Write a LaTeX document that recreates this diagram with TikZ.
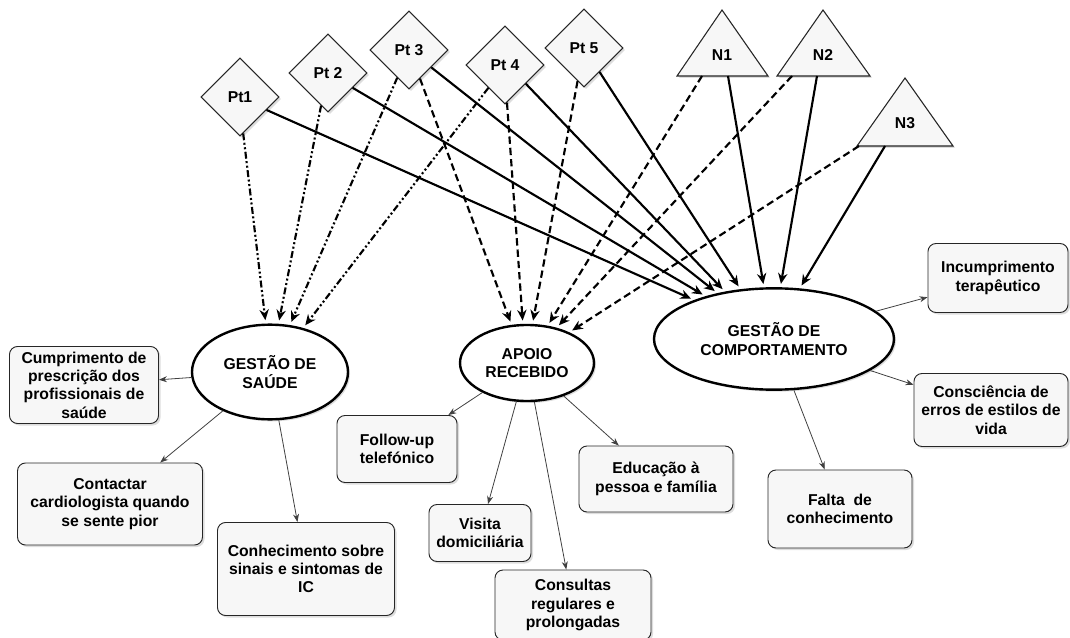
\documentclass[tikz,border=0pt]{standalone}
\usepackage{fontspec}
\setmainfont{Liberation Sans}
\usetikzlibrary{shapes.geometric,arrows.meta,shadows}
\begin{document}
\begin{tikzpicture}[x=0.75pt,y=-0.75pt,
  every node/.style={font=\fontsize{11.8}{13.75}\selectfont\bfseries, align=center},
  shd/.style={drop shadow={shadow xshift=1.5pt,shadow yshift=-1.5pt,opacity=0.22,fill=black!60}},
  dia/.style={diamond,draw=black!85,line width=0.8pt,fill=black!3,inner sep=0pt,minimum width=58.5pt,minimum height=58.5pt,shd},
  ell/.style={ellipse,draw=black,line width=1.8pt,fill=white,inner sep=0pt,shd},
  box/.style={rectangle,rounded corners=6pt,draw=black!85,line width=0.7pt,fill=black!3,inner sep=1pt,shd},
  tri/.style={draw=black!85,line width=0.8pt,fill=black!3,line join=miter,shd},
  conn/.style={line width=1.6pt,-{Stealth[length=8pt,width=7pt]},shorten >=2.5pt},
  dd/.style={conn,dash pattern=on 5.2pt off 1.9pt on 1.5pt off 1.9pt on 1.5pt off 1.9pt},
  dsh/.style={conn,dash pattern=on 5.5pt off 3pt},
  sol/.style={conn},
  outarr/.style={line width=0.6pt,draw=black!75,-{Stealth[length=6pt,width=4.5pt]}}
]
\useasboundingbox (0,0) rectangle (1070,638);

% diamonds
\node[dia] (pt1) at (240,97) {Pt1};
\node[dia] (pt2) at (328,73) {Pt 2};
\node[dia] (pt3) at (409,50) {Pt 3};
\node[dia] (pt4) at (505,65) {Pt 4};
\node[dia] (pt5) at (584,48) {Pt 5};

% triangles
\draw[tri] (722,10) -- (768,76) -- (677,76) -- cycle;
\draw[tri] (823,10) -- (870,76) -- (777,76) -- cycle;
\draw[tri] (905,78) -- (953,146) -- (857,146) -- cycle;
\node (n1) at (722,55) {N1};
\node (n2) at (823,55) {N2};
\node (n3) at (905,123) {N3};
\coordinate (n1d) at (702,76);
\coordinate (n1s) at (728,76);
\coordinate (n2d) at (792,76);
\coordinate (n2s) at (817,76);
\coordinate (n3d) at (859,146);
\coordinate (n3s) at (885,146);

% ellipses
\node[ell,minimum width=117pt,minimum height=71pt] (saude) at (270,372) {GESTÃO DE\\SAÚDE};
\node[ell,minimum width=100.5pt,minimum height=57pt] (apoio) at (527,363) {APOIO\\RECEBIDO};
\node[ell,minimum width=180pt,minimum height=76pt] (comp) at (774,339) {GESTÃO DE\\COMPORTAMENTO};

% boxes
\node[box,minimum width=111.75pt,minimum height=57.75pt] (cump) at (84,385) {Cumprimento de\\prescrição dos\\profissionais de\\saúde};
\node[box,minimum width=138.75pt,minimum height=61.5pt] (cont) at (110,504) {Contactar\\cardiologista quando\\se sente pior};
\node[box,minimum width=132.75pt,minimum height=69.75pt] (conh) at (306,569) {Conhecimento sobre\\sinais e sintomas de\\IC};
\node[box,minimum width=90pt,minimum height=50.25pt] (foll) at (397,449) {Follow-up\\telefónico};
\node[box,minimum width=76.5pt,minimum height=42.75pt] (visi) at (480,533) {Visita\\domiciliária};
\node[box,minimum width=117pt,minimum height=52.5pt] (cons) at (573,605) {Consultas\\regulares e\\prolongadas};
\node[box,minimum width=115.5pt,minimum height=49.5pt] (educ) at (656,479) {Educação à\\pessoa e família};
\node[box,minimum width=108pt,minimum height=58.5pt] (falt) at (840,509) {Falta\ \ de\\conhecimento};
\node[box,minimum width=115.5pt,minimum height=54.75pt] (consc) at (991,410) {Consciência de\\erros de estilos de\\vida};
\node[box,minimum width=105pt,minimum height=51.75pt] (incu) at (998,278) {Incumprimento\\terapêutico};

% dash-dot-dot to saude
\draw[dd] (pt1.-85) -- (saude.95);
\draw[dd] (pt2.-102) -- (saude.80);
\draw[dd] (pt3.-113) -- (saude.67);
\draw[dd] (pt4.-126) -- (saude.53);

% dashed to apoio
\draw[dsh] (pt3.-69) -- (apoio.112);
\draw[dsh] (pt4.-87) -- (apoio.96);
\draw[dsh] (pt5.-101) -- (apoio.82);
\draw[dsh] (n1d) -- (apoio.61);
\draw[dsh] (n2d) -- (apoio.50);
\draw[dsh] (n3d) -- (apoio.36);

% solid to comportamento
\draw[sol] (pt1.-26) -- (comp.154);
\draw[sol] (pt2.-31) -- (comp.148);
\draw[sol] (pt3.-38) -- (comp.141);
\draw[sol] (pt4.-42) -- (comp.136);
\draw[sol] (pt5.-57) -- (comp.124);
\draw[sol] (n1s) -- (comp.101);
\draw[sol] (n2s) -- (comp.83);
\draw[sol] (n3s) -- (comp.63);

% outgoing
\draw[outarr] (saude) -- (cump);
\draw[outarr] (saude) -- (cont);
\draw[outarr] (saude) -- (conh);
\draw[outarr] (apoio) -- (foll);
\draw[outarr] (apoio) -- (visi);
\draw[outarr] (apoio) -- (cons);
\draw[outarr] (apoio) -- (educ);
\draw[outarr] (comp) -- (incu);
\draw[outarr] (comp) -- (consc);
\draw[outarr] (comp) -- (falt);
\end{tikzpicture}
\end{document}
